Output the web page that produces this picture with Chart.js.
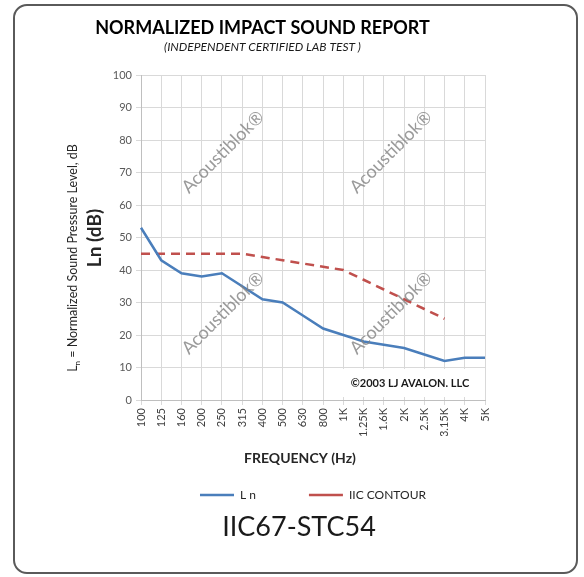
<!DOCTYPE html>
<html>
<head>
<meta charset="utf-8">
<script src="https://cdn.jsdelivr.net/npm/chart.js@4.4.1/dist/chart.umd.min.js"></script>
<style>
  body { margin: 0; background: #fff; }
  #wrap { position: relative; width: 584px; height: 577px; }
  #frame {
    position: absolute; left: 13px; top: 4px; width: 561px; height: 566px;
    border: 2px solid #5a5a5a; border-radius: 14px; pointer-events: none;
  }
</style>
</head>
<body>
<div id="wrap">
  <canvas id="impactChart" width="584" height="577"></canvas>
  <div id="frame"></div>
</div>
<script>
// ---------- data ----------
const frequencies = ['100', '125', '160', '200', '250', '315', '400', '500', '630', '800',
  '1K', '1.25K', '1.6K', '2K', '2.5K', '3.15K', '4K', '5K'];
const lnValues = [53, 43, 39, 38, 39, 35, 31, 30, 26, 22, 20, 18, 17, 16, 14, 12, 13, 13];
const iicContour = [45, 45, 45, 45, 45, 45, 44, 43, 42, 41, 40, 37, 34, 31, 28, 25, null, null];
const yTickStep = 10;
const yMax = 100;

const FONT = 'Lato, "Open Sans", sans-serif';

// ---------- extra text drawn on the canvas ----------
const decorations = {
  id: 'decorations',
  beforeDatasetsDraw(chart) {
    const ctx = chart.ctx;
    const area = chart.chartArea;
    // white box behind the copyright note
    ctx.save();
    ctx.fillStyle = '#fff';
    ctx.fillRect(340, 369, area.right - 340 - 1, area.bottom - 369 - 3);
    ctx.fillStyle = '#1a1a1a';
    ctx.font = 'bold 11px ' + FONT;
    ctx.textAlign = 'center';
    ctx.textBaseline = 'middle';
    ctx.fillText('\u00A92003 LJ AVALON. LLC', 410, 383);
    ctx.restore();
  },
  afterDraw(chart) {
    const ctx = chart.ctx;
    ctx.save();

    // watermarks
    ctx.fillStyle = 'rgba(130,130,130,0.8)';
    ctx.font = '18px ' + FONT;
    ctx.textAlign = 'center';
    ctx.textBaseline = 'middle';
    [[223, 152], [223, 313], [391, 152], [391, 313]].forEach(([x, y]) => {
      ctx.save();
      ctx.translate(x, y);
      ctx.rotate(-Math.PI / 4);
      ctx.fillText('Acoustiblok\u00AE', 0, 0);
      ctx.restore();
    });

    // y axis titles
    ctx.fillStyle = '#262626';
    ctx.save();
    ctx.translate(73, 258);
    ctx.rotate(-Math.PI / 2);
    const rest = ' = Normalized Sound Pressure Level, dB';
    ctx.font = '12.5px ' + FONT;
    const wL = ctx.measureText('L').width;
    const wRest = ctx.measureText(rest).width;
    ctx.font = '8px ' + FONT;
    const wN = ctx.measureText('n').width;
    let x = -(wL + wN + wRest) / 2;
    ctx.textAlign = 'left';
    ctx.textBaseline = 'middle';
    ctx.font = '12.5px ' + FONT;
    ctx.fillText('L', x, 0);
    ctx.font = '8px ' + FONT;
    ctx.fillText('n', x + wL, 4);
    ctx.font = '12.5px ' + FONT;
    ctx.fillText(rest, x + wL + wN, 0);
    ctx.restore();

    ctx.save();
    ctx.translate(95, 238);
    ctx.rotate(-Math.PI / 2);
    ctx.font = 'bold 19px ' + FONT;
    ctx.textAlign = 'center';
    ctx.textBaseline = 'middle';
    ctx.fillText('Ln (dB)', 0, 0);
    ctx.restore();

    // x axis title
    ctx.fillStyle = '#262626';
    ctx.font = 'bold 14px ' + FONT;
    ctx.textAlign = 'center';
    ctx.textBaseline = 'middle';
    ctx.fillText('FREQUENCY (Hz)', 300, 458);

    // rating
    ctx.fillStyle = '#1a1a1a';
    ctx.font = '27px ' + FONT;
    ctx.fillText('IIC67-STC54', 299, 527);
    ctx.restore();
  }
};

const ctx = document.getElementById('impactChart').getContext('2d');
const impactChart = new Chart(ctx, {
  type: 'line',
  data: {
    labels: frequencies,
    datasets: [{
      label: 'L n',
      data: lnValues,
      borderColor: '#4a7ebb',
      backgroundColor: '#4a7ebb',
      borderWidth: 2.5,
      pointRadius: 0,
      tension: 0
    }, {
      label: 'IIC CONTOUR',
      data: iicContour,
      borderColor: '#c0504d',
      backgroundColor: '#c0504d',
      borderWidth: 2.5,
      borderDash: [9, 6],
      pointRadius: 0,
      tension: 0,
      spanGaps: false
    }]
  },
  options: {
    responsive: false,
    animation: false,
    layout: { padding: { left: 40, right: 99, top: 0, bottom: 66 } },
    plugins: {
      title: {
        display: true,
        text: 'NORMALIZED IMPACT SOUND REPORT',
        color: '#000',
        font: { family: FONT, size: 18, weight: 'bold', lineHeight: 1.2 },
        padding: { top: 17, bottom: 0 }
      },
      subtitle: {
        display: true,
        text: '(INDEPENDENT CERTIFIED LAB TEST )',
        color: '#1a1a1a',
        font: { family: FONT, size: 12, style: 'italic', lineHeight: 1.2 },
        padding: { top: 1, bottom: 21 }
      },
      legend: {
        position: 'bottom',
        fullSize: false,
        labels: {
          usePointStyle: true,
          pointStyle: 'line',
          pointStyleWidth: 34,
          color: '#262626',
          padding: 53,
          font: { family: FONT, size: 12 }
        }
      },
      tooltip: { enabled: false }
    },
    scales: {
      x: {
        offset: false,
        grid: { color: '#d9d9d9', tickLength: 5 },
        border: { color: '#bfbfbf' },
        ticks: {
          minRotation: 90,
          maxRotation: 90,
          autoSkip: false,
          color: '#404040',
          padding: 3,
          font: { family: FONT, size: 11 }
        },
        afterFit(scale) { scale.height = 36; }
      },
      y: {
        min: 0,
        max: yMax,
        grid: { color: '#d9d9d9', tickLength: 5 },
        border: { color: '#bfbfbf' },
        ticks: {
          stepSize: yTickStep,
          color: '#595959',
          padding: 4,
          font: { family: FONT, size: 11 }
        },
        afterFit(scale) { scale.width = 101; }
      }
    }
  },
  plugins: [decorations]
});
</script>
</body>
</html>
